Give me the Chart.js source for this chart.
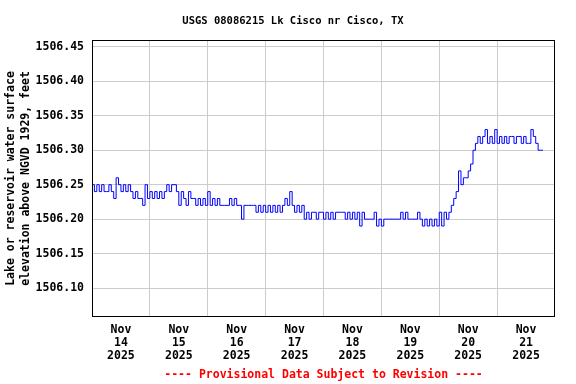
<!DOCTYPE html>
<html>
<head>
<meta charset="utf-8">
<script src="https://cdn.jsdelivr.net/npm/chart.js@4.4.1/dist/chart.umd.min.js"></script>
<style>
  html, body { margin: 0; padding: 0; background: #fff; }
  #wrap { width: 576px; height: 384px; }
</style>
</head>
<body>
<div id="wrap"><canvas id="gageChart" width="576" height="384"></canvas></div>
<script>
const TITLE = 'USGS 08086215 Lk Cisco nr Cisco, TX';
const FOOTER = '---- Provisional Data Subject to Revision ----';
const Y_TITLE = ['Lake or reservoir water surface', 'elevation above NGVD 1929, feet'];

// x tick labels, one per day
const months = ['Nov', 'Nov', 'Nov', 'Nov', 'Nov', 'Nov', 'Nov', 'Nov'];
const days = ['14', '15', '16', '17', '18', '19', '20', '21'];
const years = ['2025', '2025', '2025', '2025', '2025', '2025', '2025', '2025'];

const yTicks = [1506.10, 1506.15, 1506.20, 1506.25, 1506.30, 1506.35, 1506.40, 1506.45];
const Y_MIN = 1506.058;
const Y_MAX = 1506.460;

// hourly gage height (ft)
const nov14 = [1506.25, 1506.25, 1506.24, 1506.25, 1506.24, 1506.25, 1506.24, 1506.24, 1506.25, 1506.24, 1506.23, 1506.26,
               1506.25, 1506.24, 1506.25, 1506.24, 1506.25, 1506.24, 1506.23, 1506.24, 1506.23, 1506.23, 1506.22, 1506.25];
const nov15 = [1506.23, 1506.24, 1506.23, 1506.24, 1506.23, 1506.24, 1506.23, 1506.24, 1506.25, 1506.24, 1506.25, 1506.25,
               1506.24, 1506.22, 1506.24, 1506.23, 1506.22, 1506.24, 1506.23, 1506.23, 1506.22, 1506.23, 1506.22, 1506.23];
const nov16 = [1506.22, 1506.24, 1506.22, 1506.23, 1506.22, 1506.23, 1506.22, 1506.22, 1506.22, 1506.22, 1506.23, 1506.22,
               1506.23, 1506.22, 1506.22, 1506.20, 1506.22, 1506.22, 1506.22, 1506.22, 1506.22, 1506.21, 1506.22, 1506.21];
const nov17 = [1506.22, 1506.21, 1506.22, 1506.21, 1506.22, 1506.21, 1506.22, 1506.21, 1506.22, 1506.23, 1506.22, 1506.24,
               1506.22, 1506.21, 1506.22, 1506.21, 1506.22, 1506.20, 1506.21, 1506.20, 1506.21, 1506.21, 1506.20, 1506.21];
const nov18 = [1506.21, 1506.20, 1506.21, 1506.20, 1506.21, 1506.20, 1506.21, 1506.21, 1506.21, 1506.21, 1506.20, 1506.21,
               1506.20, 1506.21, 1506.20, 1506.21, 1506.19, 1506.21, 1506.20, 1506.20, 1506.20, 1506.20, 1506.21, 1506.19];
const nov19 = [1506.20, 1506.19, 1506.20, 1506.20, 1506.20, 1506.20, 1506.20, 1506.20, 1506.20, 1506.21, 1506.20, 1506.21,
               1506.20, 1506.20, 1506.20, 1506.20, 1506.21, 1506.20, 1506.19, 1506.20, 1506.19, 1506.20, 1506.19, 1506.20];
const nov20 = [1506.19, 1506.21, 1506.19, 1506.21, 1506.20, 1506.21, 1506.22, 1506.23, 1506.24, 1506.27, 1506.25, 1506.26,
               1506.26, 1506.27, 1506.28, 1506.30, 1506.31, 1506.32, 1506.31, 1506.32, 1506.33, 1506.31, 1506.32, 1506.31];
const nov21 = [1506.33, 1506.31, 1506.32, 1506.31, 1506.32, 1506.31, 1506.32, 1506.32, 1506.31, 1506.32, 1506.32, 1506.31,
               1506.32, 1506.31, 1506.31, 1506.33, 1506.32, 1506.31, 1506.30, 1506.30];

const levels = [].concat(nov14, nov15, nov16, nov17, nov18, nov19, nov20, nov21);
const points = levels.map((v, i) => ({ x: i, y: v })); // x = hours since Nov 14 00:00

// ticks every 12 h: odd ones carry the day label, even ones carry the gridline
const tickHours = [];
for (let h = 12; h < days.length * 24; h += 12) tickHours.push(h);

const monoFont = (size, lh) => ({ family: '"DejaVu Sans Mono", monospace', size, weight: 'bold', lineHeight: lh });

const decor = {
  id: 'decor',
  afterDraw(chart) {
    const { ctx, chartArea: a } = chart;
    ctx.save();
    ctx.strokeStyle = '#000';
    ctx.lineWidth = 1;
    ctx.strokeRect(a.left + 0.5, a.top + 0.5, a.right - a.left - 1, a.bottom - a.top - 1);
    ctx.textAlign = 'center';
    ctx.textBaseline = 'middle';
    ctx.fillStyle = '#000';
    ctx.font = 'bold 10.5px "DejaVu Sans Mono", monospace';
    ctx.fillText(TITLE, 293, 21);
    ctx.fillStyle = '#ff0000';
    ctx.font = 'bold 11.5px "DejaVu Sans Mono", monospace';
    ctx.fillText(FOOTER, (a.left + a.right) / 2, 375);
    ctx.restore();
  },
};

new Chart(document.getElementById('gageChart').getContext('2d'), {
  type: 'line',
  data: {
    datasets: [{
      data: points,
      borderColor: '#0000ff',
      borderWidth: 1,
      pointRadius: 0,
      stepped: 'after',
      fill: false,
    }],
  },
  options: {
    responsive: false,
    animation: false,
    layout: { padding: { top: 40, right: 21, bottom: 0, left: 0 } },
    plugins: { legend: { display: false }, tooltip: { enabled: false } },
    scales: {
      x: {
        type: 'linear',
        min: 0,
        max: days.length * 24,
        afterBuildTicks: (s) => { s.ticks = tickHours.map((v) => ({ value: v })); },
        afterFit: (s) => { s.height = 67; },
        grid: {
          color: (c) => (c.tick && c.tick.value % 24 === 0 ? '#cccccc' : 'rgba(0,0,0,0)'),
          drawTicks: false,
        },
        border: { display: false },
        ticks: {
          autoSkip: false,
          maxRotation: 0,
          color: '#000',
          padding: 6.5,
          font: monoFont(11.5, 1.12),
          callback: (v) => {
            if (v % 24 !== 12) return '';
            const i = (v - 12) / 24;
            return [months[i], days[i], years[i]];
          },
        },
      },
      y: {
        min: Y_MIN,
        max: Y_MAX,
        afterBuildTicks: (s) => { s.ticks = yTicks.map((v) => ({ value: v })); },
        afterFit: (s) => { s.width = 92; },
        grid: { color: '#cccccc', drawTicks: false },
        border: { display: false },
        ticks: { color: '#000', padding: 8, font: monoFont(11.5, 1.2), callback: (v) => v.toFixed(2) },
        title: {
          display: true,
          text: Y_TITLE,
          color: '#000',
          font: monoFont(11.5, 1.28),
          padding: { top: 3.5, bottom: 0 },
        },
      },
    },
  },
  plugins: [decor],
});
</script>
</body>
</html>
